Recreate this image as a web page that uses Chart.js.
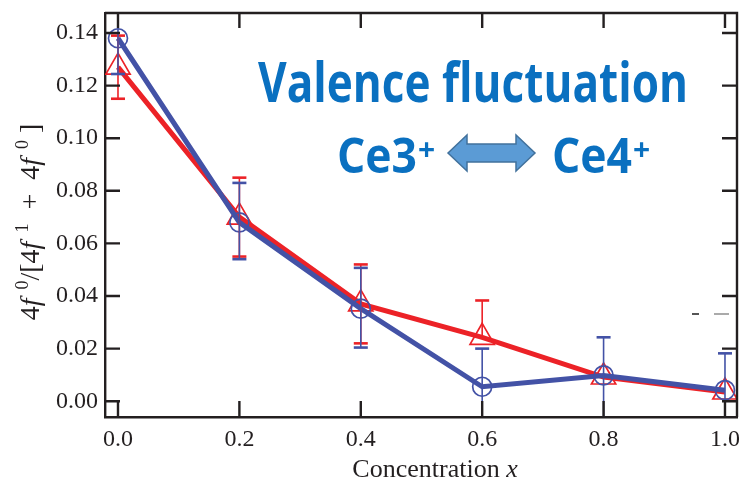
<!DOCTYPE html>
<html>
<head>
<meta charset="utf-8">
<script src="https://cdn.jsdelivr.net/npm/chart.js@4.4.1/dist/chart.umd.min.js"></script>
<style>
	html, body { margin: 0; padding: 0; background: #fff; }
	#chart { display: block; }
</style>
</head>
<body>
<canvas id="chart" width="739" height="485"></canvas>
<script>
// concentration x
const concentration = [0.0, 0.2, 0.4, 0.6, 0.8, 1.0];

// red triangles
const redValues = [0.127, 0.070, 0.037, 0.0243, 0.0092, 0.0035];
const redErrUp = [0.012, 0.015, 0.015, 0.014, 0, 0];
const redErrDown = [0.012, 0.015, 0.015, 0, 0, 0];

// blue circles
const blueValues = [0.138, 0.068, 0.0352, 0.0055, 0.0098, 0.0042];
const blueErrUp = [0.0136, 0.015, 0.0155, 0.0145, 0.0145, 0.014];
const blueErrDown = [0.0136, 0.014, 0.0148, 0.0145, 0.0168, 0.014];

const xTicks = [0.0, 0.2, 0.4, 0.6, 0.8, 1.0];
const yTicks = [0.0, 0.02, 0.04, 0.06, 0.08, 0.10, 0.12, 0.14];

const RED = "#ec2227";
const BLUE = "#4352a6";
const AXIS = "#231f20";
const TEXT_BLUE = "#0a70c0";

const toPoints = values => values.map((v, i) => ({ x: concentration[i], y: v }));
const noPadding = () => ({ left: 0, top: 0, right: 0, bottom: 0 });

const errorBars = {
	id: "errorBars",
	afterDatasetsDraw(chart) {
		const { ctx, chartArea, scales } = chart;
		const sets = [
			{ index: 1, up: redErrUp, down: redErrDown, color: RED },
			{ index: 0, up: blueErrUp, down: blueErrDown, color: BLUE },
		];
		ctx.save();
		ctx.beginPath();
		ctx.rect(chartArea.left, chartArea.top, chartArea.right - chartArea.left, chartArea.bottom - chartArea.top);
		ctx.clip();
		sets.forEach(s => {
			const values = chart.data.datasets[s.index].data;
			ctx.strokeStyle = s.color;
			values.forEach((p, i) => {
				const px = scales.x.getPixelForValue(p.x);
				const top = scales.y.getPixelForValue(p.y + s.up[i]);
				const bottom = scales.y.getPixelForValue(p.y - s.down[i]);
				const mid = scales.y.getPixelForValue(p.y);
				ctx.lineWidth = 1.6;
				ctx.beginPath();
				ctx.moveTo(px, top);
				ctx.lineTo(px, bottom);
				ctx.stroke();
				ctx.lineWidth = 2.6;
				[top, bottom].forEach(yy => {
					if (Math.abs(yy - mid) < 1) return;
					ctx.beginPath();
					ctx.moveTo(px - 7, yy);
					ctx.lineTo(px + 7, yy);
					ctx.stroke();
				});
			});
		});
		ctx.restore();
	},
};

const drawMixed = (ctx, parts, x, y) => {
	// parts: [text, font, dy]
	let cx = x;
	parts.forEach(([text, font, dy]) => {
		ctx.font = font;
		ctx.fillText(text, cx, y + dy);
		cx += ctx.measureText(text).width;
	});
};

const measureMixed = (ctx, parts) => {
	let w = 0;
	parts.forEach(([text, font]) => {
		ctx.font = font;
		w += ctx.measureText(text).width;
	});
	return w;
};

const frameAndText = {
	id: "frameAndText",
	afterDraw(chart) {
		const { ctx, chartArea, scales } = chart;
		const { left, right, top, bottom } = chartArea;
		ctx.save();
		ctx.strokeStyle = AXIS;
		ctx.lineWidth = 2.4;
		ctx.beginPath();
		ctx.moveTo(left, top);
		ctx.lineTo(right, top);
		ctx.lineTo(right, bottom);
		ctx.stroke();

		// inward ticks
		scales.x.ticks.forEach(t => {
			const px = scales.x.getPixelForValue(t.value);
			ctx.beginPath();
			ctx.moveTo(px, bottom);
			ctx.lineTo(px, bottom - 16);
			ctx.moveTo(px, top);
			ctx.lineTo(px, top + 15);
			ctx.stroke();
		});
		scales.y.ticks.forEach(t => {
			const py = scales.y.getPixelForValue(t.value);
			ctx.beginPath();
			ctx.moveTo(left, py);
			ctx.lineTo(left + 15, py);
			ctx.moveTo(right, py);
			ctx.lineTo(right - 15, py);
			ctx.stroke();
		});

		// stray marks
		ctx.lineWidth = 2;
		ctx.strokeStyle = "#555";
		ctx.beginPath();
		ctx.moveTo(692, 314);
		ctx.lineTo(699, 314);
		ctx.stroke();
		ctx.strokeStyle = "#aaa";
		ctx.beginPath();
		ctx.moveTo(714, 314);
		ctx.lineTo(729, 314);
		ctx.stroke();

		// axis titles
		ctx.fillStyle = AXIS;
		ctx.textBaseline = "alphabetic";
		const xParts = [
			["Concentration ", '26px "Liberation Serif"', 0],
			["x", 'italic 26px "Liberation Serif"', 0],
		];
		const xw = measureMixed(ctx, xParts);
		drawMixed(ctx, xParts, 435 - xw / 2, 477);

		const reg = '28px "Liberation Serif"';
		const ita = 'italic 28px "Liberation Serif"';
		const sup = '18px "Liberation Serif"';
		const yParts = [
			["4", reg, 0], ["f", ita, 0], ["  0", sup, -11],
			["/[4", reg, 0], ["f", ita, 0], ["  1", sup, -11],
			["  +  4", reg, 0], ["f", ita, 0], ["  0", sup, -11],
			[" ]", reg, 0],
		];
		const yw = measureMixed(ctx, yParts);
		ctx.save();
		ctx.translate(39, 222);
		ctx.rotate(-Math.PI / 2);
		drawMixed(ctx, yParts, -yw / 2, 0);
		ctx.restore();

		// annotation
		ctx.fillStyle = TEXT_BLUE;
		ctx.font = 'bold 55px "Open Sans"';
		ctx.fillText("Valence fluctuation", 258, 102, 430);
		ctx.font = 'bold 48px "Open Sans"';
		ctx.fillText("Ce3", 337, 173, 80);
		ctx.fillText("Ce4", 552, 173, 80);
		ctx.font = 'bold 30px "Open Sans"';
		ctx.fillText("+", 418, 160, 22);
		ctx.fillText("+", 633, 160, 22);

		// double arrow
		const ax0 = 448, ax1 = 535, ay = 153, head = 19, half = 18, shaft = 9;
		ctx.beginPath();
		ctx.moveTo(ax0, ay);
		ctx.lineTo(ax0 + head, ay - half);
		ctx.lineTo(ax0 + head, ay - shaft);
		ctx.lineTo(ax1 - head, ay - shaft);
		ctx.lineTo(ax1 - head, ay - half);
		ctx.lineTo(ax1, ay);
		ctx.lineTo(ax1 - head, ay + half);
		ctx.lineTo(ax1 - head, ay + shaft);
		ctx.lineTo(ax0 + head, ay + shaft);
		ctx.lineTo(ax0 + head, ay + half);
		ctx.closePath();
		ctx.fillStyle = "#5b9bd5";
		ctx.fill();
		ctx.strokeStyle = "#41719c";
		ctx.lineWidth = 1.5;
		ctx.stroke();
		ctx.restore();
	},
};

const ctx = document.querySelector("#chart").getContext("2d");
const chart = new Chart(ctx, {
	type: "line",
	data: {
		datasets: [
			{
				label: "circles",
				data: toPoints(blueValues),
				borderColor: BLUE,
				borderWidth: 5,
				pointStyle: "circle",
				pointRadius: 9.5,
				pointBorderWidth: 1.7,
				pointBorderColor: BLUE,
				pointBackgroundColor: "rgba(0,0,0,0)",
				tension: 0,
			},
			{
				label: "triangles",
				data: toPoints(redValues),
				borderColor: RED,
				borderWidth: 5,
				pointStyle: "triangle",
				pointRadius: 14,
				pointBorderWidth: 1.7,
				pointBorderColor: RED,
				pointBackgroundColor: "rgba(0,0,0,0)",
				tension: 0,
			},
		],
	},
	options: {
		responsive: false,
		animation: false,
		devicePixelRatio: 1,
		layout: {
			autoPadding: false,
			padding: { top: 13, right: 2, left: 0, bottom: 0 },
		},
		plugins: {
			legend: { display: false },
			tooltip: { enabled: false },
		},
		scales: {
			x: {
				type: "linear",
				min: -0.0214,
				max: 1.0198,
				afterBuildTicks: scale => {
					scale.ticks = xTicks.map(v => ({ value: v }));
				},
				afterFit: scale => {
					scale.height = 68;
					scale.getPadding = noPadding;
				},
				grid: { display: false, drawTicks: false },
				border: { display: true, color: AXIS, width: 2.4 },
				ticks: {
					padding: 8,
					color: AXIS,
					font: { family: "Liberation Serif", size: 24 },
					callback: v => Number(v).toFixed(1),
				},
			},
			y: {
				type: "linear",
				min: -0.006,
				max: 0.1476,
				afterBuildTicks: scale => {
					scale.ticks = yTicks.map(v => ({ value: v }));
				},
				afterFit: scale => {
					scale.width = 105;
					scale.getPadding = noPadding;
				},
				grid: { display: false, drawTicks: false },
				border: { display: true, color: AXIS, width: 2.4 },
				ticks: {
					padding: 7,
					color: AXIS,
					font: { family: "Liberation Serif", size: 24 },
					callback: v => Number(v).toFixed(2),
				},
			},
		},
	},
	plugins: [errorBars, frameAndText],
});
</script>
</body>
</html>
